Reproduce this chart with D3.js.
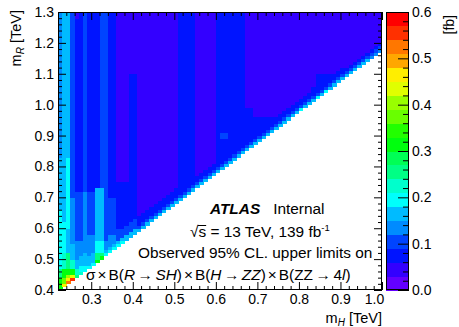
<!DOCTYPE html>
<html><head><meta charset="utf-8">
<script src="https://cdn.jsdelivr.net/npm/d3@7/dist/d3.min.js"></script>
<style>
body{margin:0;background:#fff}
svg text{font-family:"Liberation Sans",Arial,Helvetica,sans-serif;fill:#000}
</style></head>
<body><svg id="c" width="459" height="327"></svg>
<script>
// ---------------- data ----------------
const mHRange = [0.22, 1.00];          // TeV
const mRRange = [0.40, 1.30];          // TeV
const binW = 0.01, binH = 0.01;
const minGap = 0.18;                   // lowest filled m_R row = m_H + 0.18
const xTicks = [0.3, 0.4, 0.5, 0.6, 0.7, 0.8, 0.9, 1.0];
const yTicks = [0.4, 0.5, 0.6, 0.7, 0.8, 0.9, 1.0, 1.1, 1.2, 1.3];
const zTicks = [0.0, 0.1, 0.2, 0.3, 0.4, 0.5, 0.6];
const zRange = [0, 0.6];
const palette = ["#6300ff","#3300ff","#0014ff","#0044ff","#008bff","#00bbff","#00fffc","#00ffcc",
  "#00ff85","#00ff55","#00ff0e","#22ff00","#69ff00","#99ff00","#e0ff00","#ffee00",
  "#ffa700","#ff7700","#ff3000","#ff0000"];
// observed limits [fb] per m_H column (0.01 TeV wide, starting 0.22):
// "value@mRlow" segments from top down; last one reaches the kinematic edge
const columns = [
 "0.14@1.27 0.13@0.83 0.16@0.66 0.18@0.55 0.21@0.47 0.26@0.44 0.30@0.42 0.32",
 "0.15@1.27 0.16@0.83 0.17@0.62 0.19@0.52 0.23@0.47 0.31@0.44 0.37@0.42 0.46",
 "0.15@1.27 0.16@0.83 0.19@0.60 0.17@0.52 0.24@0.47 0.32@0.45 0.40@0.44 0.47@0.43 0.51",
 "0.11@0.70 0.13@0.55 0.15@0.50 0.22@0.47 0.31@0.45 0.44@0.44 0.56",
 "0.05@1.28 0.08@0.72 0.10@0.56 0.13@0.50 0.17@0.47 0.22@0.45 0.25",
 "0.08@0.72 0.10@0.56 0.13@0.51 0.17@0.48 0.20@0.46 0.22",
 "0.10@0.72 0.12@0.56 0.14@0.52 0.17@0.48 0.20",
 "0.08@0.72 0.10@0.58 0.14@0.51 0.17@0.48 0.20",
 "0.08@0.72 0.10@0.58 0.13@0.52 0.16@0.49 0.20",
 "0.08@0.73 0.15@0.56 0.19@0.52 0.24@0.50 0.30",
 "0.10@0.73 0.15@0.56 0.20@0.52 0.26@0.51 0.32",
 "0.09@0.70 0.11@0.56 0.13@0.53 0.17@0.52 0.20",
 "0.07@0.70 0.09@0.58 0.12@0.54 0.17@0.53 0.19",
 "0.07@0.70 0.09@0.58 0.12@0.55 0.16@0.54 0.19",
 "0.05@0.75 0.07@0.60 0.10@0.56 0.15@0.55 0.18",
 "0.05@0.75 0.07@0.60 0.10@0.57 0.15@0.56 0.18",
 "0.05@0.75 0.07@0.61 0.10@0.58 0.15@0.57 0.17",
 "0.05@1.10 0.07@0.62 0.10@0.59 0.15@0.58 0.17",
 "0.05@1.10 0.07@0.63 0.10@0.60 0.15@0.59 0.17",
 "0.05@0.64 0.07@0.61 0.11@0.60 0.16",
 "0.05@0.65 0.07@0.62 0.11@0.61 0.16",
 "0.05@0.66 0.07@0.63 0.11@0.62 0.17",
 "0.05@0.67 0.07@0.64 0.11@0.63 0.16",
 "0.05@0.68 0.07@0.65 0.11@0.64 0.17",
 "0.05@0.69 0.07@0.66 0.11@0.65 0.16",
 "0.05@0.70 0.07@0.67 0.11@0.66 0.16",
 "0.05@0.71 0.07@0.68 0.11@0.67 0.17",
 "0.05@0.72 0.07@0.69 0.11@0.68 0.16",
 "0.05@0.73 0.07@0.70 0.11@0.69 0.16",
 "0.07@0.71 0.11@0.70 0.16",
 "0.07@0.72 0.11@0.71 0.17",
 "0.07@0.73 0.11@0.72 0.16",
 "0.07@0.74 0.11@0.73 0.16",
 "0.05@0.77 0.07@0.75 0.11@0.74 0.16",
 "0.05@0.78 0.07@0.76 0.11@0.75 0.17",
 "0.05@0.79 0.07@0.77 0.11@0.76 0.16",
 "0.05@0.80 0.07@0.78 0.11@0.77 0.16",
 "0.05@0.81 0.07@0.79 0.11@0.78 0.17",
 "0.07@0.80 0.11@0.79 0.16",
 "0.07@0.91 0.10@0.89 0.07@0.81 0.11@0.80 0.16",
 "0.07@0.91 0.10@0.89 0.07@0.82 0.11@0.81 0.17",
 "0.07@0.83 0.11@0.82 0.16",
 "0.07@0.84 0.11@0.83 0.16",
 "0.07@0.85 0.11@0.84 0.17",
 "0.07@0.86 0.11@0.85 0.16",
 "0.05@0.99 0.07@0.87 0.11@0.86 0.16",
 "0.05@0.99 0.07@0.88 0.11@0.87 0.16",
 "0.05@0.96 0.07@0.89 0.11@0.88 0.17",
 "0.05@0.96 0.07@0.90 0.11@0.89 0.16",
 "0.05@0.96 0.07@0.91 0.11@0.90 0.16",
 "0.05@0.96 0.07@0.92 0.11@0.91 0.17",
 "0.05@0.96 0.07@0.93 0.11@0.92 0.16",
 "0.05@0.96 0.07@0.94 0.11@0.93 0.16",
 "0.05@0.97 0.07@0.95 0.11@0.94 0.17",
 "0.05@0.98 0.07@0.96 0.11@0.95 0.16",
 "0.05@0.99 0.07@0.97 0.11@0.96 0.16",
 "0.05@1.00 0.07@0.98 0.11@0.97 0.17",
 "0.05@1.01 0.07@0.99 0.11@0.98 0.16",
 "0.05@1.02 0.07@1.00 0.11@0.99 0.19",
 "0.05@1.03 0.07@1.01 0.11@1.00 0.16",
 "0.05@1.04 0.07@1.02 0.11@1.01 0.17",
 "0.05@1.06 0.07@1.03 0.11@1.02 0.16",
 "0.05@1.10 0.07@1.04 0.11@1.03 0.19",
 "0.05@1.10 0.07@1.05 0.11@1.04 0.17",
 "0.05@1.10 0.07@1.06 0.11@1.05 0.19",
 "0.05@1.10 0.07@1.07 0.11@1.06 0.17",
 "0.05@1.10 0.07@1.08 0.11@1.07 0.16",
 "0.05@1.11 0.07@1.09 0.11@1.08 0.17",
 "0.05@1.12 0.07@1.10 0.11@1.09 0.16",
 "0.05@1.12 0.07@1.11 0.11@1.10 0.16",
 "0.05@1.13 0.07@1.12 0.11@1.11 0.16",
 "0.05@1.14 0.07@1.13 0.11@1.12 0.16",
 "0.05@1.15 0.07@1.14 0.11@1.13 0.16",
 "0.05@1.16 0.07@1.15 0.11@1.14 0.15",
 "0.05@1.17 0.07@1.16 0.11@1.15 0.15",
 "0.05@1.18 0.07@1.17 0.11@1.16 0.14",
 "0.05@1.19 0.07@1.18 0.11@1.17 0.14",
 "0.05@1.20 0.07@1.19 0.11@1.18 0.14"
];

// ---------------- layout ----------------
const P = {l:58, r:382, t:12, b:290};
const CB = {x0:386, x1:409};
const svg = d3.select("#c");
const x = d3.scaleLinear().domain(mHRange).range([P.l, P.r]);
const y = d3.scaleLinear().domain(mRRange).range([P.b, P.t]);
const z = d3.scaleLinear().domain(zRange).range([P.b, P.t]);
const color = d3.scaleQuantize().domain(zRange).range(palette);
const r2 = v => Math.round(v*100)/100;

const cells = [];
columns.forEach((s, k) => {
  const mH = r2(mHRange[0] + k*binW);
  const segs = s.trim().split(/\s+/).map(t => { const [v,b] = t.split("@"); return {v:+v, b: b===undefined ? -Infinity : +b}; });
  for (let r = r2(mH + minGap); r < mRRange[1] - 1e-6; r = r2(r + binH)) {
    const sg = segs.find(q => r >= q.b - 1e-6);
    cells.push({mH, mR:r, v:sg.v});
  }
});

svg.append("clipPath").attr("id","pc").append("rect")
  .attr("x",P.l).attr("y",P.t).attr("width",P.r-P.l).attr("height",P.b-P.t);
svg.append("g").attr("clip-path","url(#pc)").attr("shape-rendering","crispEdges")
  .selectAll("rect").data(cells).join("rect")
  .attr("x", d => x(d.mH))
  .attr("y", d => y(d.mR + binH))
  .attr("width", d => x(d.mH + binW) - x(d.mH) + 0.4)
  .attr("height", d => y(d.mR) - y(d.mR + binH) + 0.4)
  .attr("fill", d => color(Math.min(d.v, 0.5999)));

// frame axes
const minorX = d3.range(0.22, 1.0001, 0.02).map(r2).filter(v => !xTicks.includes(v));
const minorY = d3.range(0.40, 1.3001, 0.02).map(r2).filter(v => !yTicks.includes(v));
const fs = 14;
function styleAxis(g){ g.select(".domain").remove(); g.selectAll("line").attr("stroke","#000"); g.selectAll("text").attr("font-size",fs).attr("font-family","Liberation Sans, Arial, sans-serif"); }
// bottom
const bx = svg.append("g").attr("transform",`translate(0,${P.b})`)
  .call(d3.axisBottom(x).tickValues(xTicks).tickFormat(d3.format(".1f")).tickSizeInner(-8).tickSizeOuter(0).tickPadding(4)).call(styleAxis);
bx.selectAll(".tick text").filter(d => d === xTicks[xTicks.length-1]).attr("dx", -8);
svg.append("g").attr("transform",`translate(0,${P.b})`)
  .call(d3.axisBottom(x).tickValues(minorX).tickFormat("").tickSizeInner(-4).tickSizeOuter(0)).call(styleAxis);
// top
svg.append("g").attr("transform",`translate(0,${P.t})`)
  .call(d3.axisTop(x).tickValues(xTicks).tickFormat("").tickSizeInner(-8).tickSizeOuter(0)).call(styleAxis);
svg.append("g").attr("transform",`translate(0,${P.t})`)
  .call(d3.axisTop(x).tickValues(minorX).tickFormat("").tickSizeInner(-4).tickSizeOuter(0)).call(styleAxis);
// left
svg.append("g").attr("transform",`translate(${P.l},0)`)
  .call(d3.axisLeft(y).tickValues(yTicks).tickFormat(d3.format(".1f")).tickSizeInner(-8).tickSizeOuter(0).tickPadding(4)).call(styleAxis);
svg.append("g").attr("transform",`translate(${P.l},0)`)
  .call(d3.axisLeft(y).tickValues(minorY).tickFormat("").tickSizeInner(-4).tickSizeOuter(0)).call(styleAxis);
// right
svg.append("g").attr("transform",`translate(${P.r},0)`)
  .call(d3.axisRight(y).tickValues(yTicks).tickFormat("").tickSizeInner(-8).tickSizeOuter(0)).call(styleAxis);
svg.append("g").attr("transform",`translate(${P.r},0)`)
  .call(d3.axisRight(y).tickValues(minorY).tickFormat("").tickSizeInner(-4).tickSizeOuter(0)).call(styleAxis);
svg.append("rect").attr("x",P.l+0.5).attr("y",P.t+0.5).attr("width",P.r-P.l-1).attr("height",P.b-P.t-1)
  .attr("fill","none").attr("stroke","#000");

// color bar
const nLev = palette.length, dz = (zRange[1]-zRange[0])/nLev;
svg.append("g").attr("shape-rendering","crispEdges").selectAll("rect").data(palette).join("rect")
  .attr("x", CB.x0).attr("width", CB.x1-CB.x0)
  .attr("y", (c,i) => z(zRange[0]+(i+1)*dz)).attr("height", (c,i) => z(zRange[0]+i*dz)-z(zRange[0]+(i+1)*dz)+0.5)
  .attr("fill", c => c);
const minorZ = d3.range(0, 0.6001, 0.02).map(r2).filter(v => !zTicks.includes(v));
svg.append("g").attr("transform",`translate(${CB.x1},0)`)
  .call(d3.axisRight(z).tickValues(zTicks).tickFormat(d3.format(".1f")).tickSizeInner(-11).tickSizeOuter(0).tickPadding(3)).call(styleAxis);
svg.append("g").attr("transform",`translate(${CB.x1},0)`)
  .call(d3.axisRight(z).tickValues(minorZ).tickFormat("").tickSizeInner(-6).tickSizeOuter(0)).call(styleAxis);
svg.append("rect").attr("x",CB.x0+0.5).attr("y",P.t+0.5).attr("width",CB.x1-CB.x0-1).attr("height",P.b-P.t-1)
  .attr("fill","none").attr("stroke","#000");

// titles
const yt = svg.append("text").attr("transform","translate(21,10) rotate(-90)").attr("text-anchor","end").attr("font-size",14.5);
yt.append("tspan").text("m");
yt.append("tspan").attr("font-style","italic").attr("font-size",10).attr("dy",3).text("R");
yt.append("tspan").attr("dy",-3).text(" [TeV]");
const xt = svg.append("text").attr("x",P.r).attr("y",323).attr("text-anchor","end").attr("font-size",14.5);
xt.append("tspan").text("m");
xt.append("tspan").attr("font-style","italic").attr("font-size",10).attr("dy",3).text("H");
xt.append("tspan").attr("dy",-3).text(" [TeV]");
svg.append("text").attr("transform","translate(454,15) rotate(-90)").attr("text-anchor","end").attr("font-size",14).text("[fb]");

// ATLAS label block
const tfs = 15.4;
const l1 = svg.append("text").attr("x",210).attr("y",214).attr("font-size",tfs);
l1.append("tspan").attr("font-weight","bold").attr("font-style","italic").text("ATLAS");
l1.append("tspan").attr("dx",13).text("Internal");
const l2 = svg.append("text").attr("x",190).attr("y",237).attr("font-size",tfs);
l2.append("tspan").text("\u221As = 13 TeV, 139 fb");
l2.append("tspan").attr("font-size",9.5).attr("dy",-6).text("-1");
{ const e = l2.node().getExtentOfChar(1);
  svg.append("line").attr("x1",e.x-0.5).attr("x2",e.x+e.width).attr("y1",e.y+2.5).attr("y2",e.y+2.5)
    .attr("stroke","#000").attr("stroke-width",1); }
svg.append("text").attr("x",138).attr("y",258).attr("font-size",tfs).text("Observed 95% CL. upper limits on");
const l4 = svg.append("text").attr("x",86).attr("y",280).attr("font-size",tfs);
// [text, italic, gap before (px)]
[["\u03C3",0,0],["\u00D7",0,2],["B(",0,2],["R",1,0],["\u2192",0,2.5],["SH",1,2.5],[")",0,0],["\u00D7",0,2],["B(",0,2],
 ["H",1,0],["\u2192",0,2.5],["ZZ",1,2.5],[")",0,0],["\u00D7",0,2],["B(ZZ",0,2],["\u2192",0,2.5],["4",0,2.5],["l",1,0],[")",0,0]]
  .forEach(([t,it,g]) => l4.append("tspan").attr("font-style", it ? "italic" : "normal").attr("dx", g).text(t));
</script></body></html>
